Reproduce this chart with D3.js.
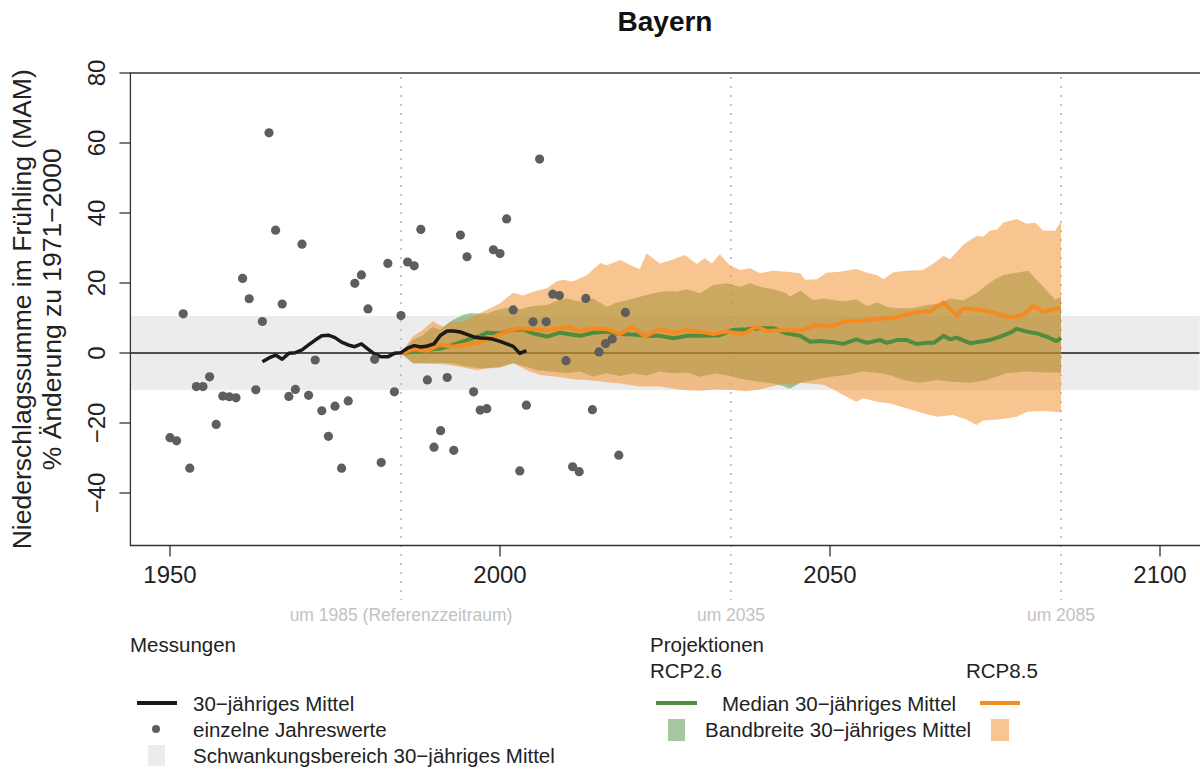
<!DOCTYPE html>
<html><head><meta charset="utf-8">
<script src="https://cdn.jsdelivr.net/npm/d3@7"></script>
<style>
body{margin:0;background:#fff;}
svg text{font-family:"Liberation Sans",Arial,Helvetica,sans-serif;}
</style></head>
<body><svg id="c" width="1200" height="772"></svg>
<script>
// ---------- DATA ----------
const title = "Bayern";
const yLabel1 = "Niederschlagssumme im Frühling (MAM)";
const yLabel2 = "% Änderung zu 1971\u22122000";
const xTicks = [1950, 2000, 2050, 2100];
const yTicks = [-40, -20, 0, 20, 40, 60, 80];
const markerYears = [1985, 2035, 2085];
const markerLabels = ["um 1985 (Referenzzeitraum)", "um 2035", "um 2085"];
const variabilityRange = [-10.6, 10.6];

// individual annual values 1950..2019
const annualStart = 1950;
const annualValues = [
 -24.2,-25.1,11.2,-32.9,-9.6,-9.6,-6.8,-20.4,-12.3,-12.5,
 -12.8,21.3,15.5,-10.5,9.0,62.9,35.1,14.0,-12.4,-10.4,
 31.1,-12.1,-2.0,-16.5,-23.8,-15.2,-32.9,-13.7,19.9,22.3,
 12.6,-1.8,-31.3,25.6,-11.1,10.7,26.0,24.9,35.3,-7.7,
 -26.9,-22.2,-7.0,-27.8,33.7,27.5,-11.1,-16.3,-15.9,29.5,
 28.4,38.3,12.3,-33.7,-14.9,8.9,55.4,8.9,16.8,16.4,
 -2.2,-32.5,-33.9,15.6,-16.2,0.3,2.7,4.0,-29.2,11.6
];

// observed 30-year running mean 1964..2004
const obsMeanStart = 1964;
const obsMeanValues = [
 -2.5,-1.4,-0.6,-1.8,-0.1,0.1,0.9,2.3,3.7,4.9,
 5.1,4.4,3.1,2.3,1.8,2.6,1.1,-0.3,-1.1,-1.1,
 -0.1,0.1,1.4,2.1,1.7,2.0,2.6,5.1,6.3,6.3,
 6.0,5.3,4.6,4.3,4.2,3.9,3.3,2.6,1.9,-0.1,0.7
];

// RCP8.5 band (upper / lower), [year, value]
const rcp85Upper = [[1985,0],[1986.8,4.7],[1988.3,6.6],[1989.8,9.1],[1991.4,7.5],[1992.9,9.1],[1993.9,8.7],[1995.5,10],[1997,11.4],[1998.5,12.8],[2000,14.2],[2002,17.2],[2003.5,16.4],[2005,17.5],[2007.1,18.5],[2008.6,20.4],[2009.5,20.9],[2011,20.4],[2013.2,22.3],[2015.2,25.7],[2016.2,25.1],[2018.2,26.6],[2020.2,24.7],[2021.2,24],[2022.2,28.5],[2024.2,25.6],[2025.8,26.4],[2028,28],[2029.8,25.4],[2031,27.1],[2032.1,25.6],[2033.3,28.2],[2034.8,25.1],[2036.4,23.7],[2037.9,24.2],[2039.4,22.8],[2041.4,23.5],[2043.4,23.2],[2045.5,22.8],[2046.2,20.9],[2048,21.1],[2049.5,22.9],[2051.5,23.2],[2054,24],[2055.6,22.9],[2057.1,22.3],[2058.1,21.1],[2059.6,23.1],[2061.6,23.5],[2064.1,23.7],[2065.7,25.6],[2067.2,27.7],[2068.2,26.8],[2070.2,30.9],[2072.2,33.4],[2073.2,33.2],[2074.2,34.9],[2075.3,35.3],[2076.3,37.3],[2078.3,38.3],[2079.8,36.9],[2081.1,37.2],[2082.3,34.9],[2084.1,34.9],[2085,37.5]];
const rcp85Lower = [[1985,0],[1986.8,-2.9],[1988.9,-3.1],[1991.4,-3.2],[1993.9,-3.9],[1996.5,-4.9],[1998,-4.4],[2000,-4.2],[2002,-2.9],[2004.1,-4.9],[2006.1,-6.3],[2008.6,-6.8],[2011.1,-7.5],[2013.2,-7.7],[2015.6,-8.2],[2018.2,-8.7],[2021.2,-9.6],[2024.2,-9.6],[2027.7,-10.6],[2030.3,-10.8],[2032.8,-10.4],[2035.3,-10.6],[2037.4,-10.9],[2039.4,-10.4],[2041.4,-9.4],[2042.9,-8.7],[2044,-9.1],[2045.5,-8.5],[2049,-9.1],[2050.5,-10.4],[2052.5,-12.5],[2054,-13.9],[2055,-12.9],[2057.1,-13.9],[2059.1,-14.4],[2061.6,-15.8],[2064.1,-17.2],[2066.2,-18.2],[2068.7,-17.7],[2070.7,-19.1],[2072.2,-20.6],[2073.2,-19.3],[2075.8,-18.9],[2078.3,-18.2],[2079.8,-16.8],[2082.3,-16.6],[2085,-16.9]];
// RCP2.6 band
const rcp26Upper = [[1985,0],[1986.8,3.7],[1988.3,5.1],[1989.8,7.5],[1990.9,6.6],[1992.4,8.9],[1994.4,10.9],[1995.5,11.4],[1996.5,11.3],[1998,11.3],[1999.5,12.3],[2001.5,13.1],[2003,12.5],[2005,13.4],[2007.1,13.7],[2008.6,14.9],[2010.1,15.6],[2012.1,14.7],[2014.1,15.6],[2016.2,13.2],[2017.7,14.4],[2019.2,15.1],[2021.2,16.1],[2023.2,17.1],[2025.3,17.7],[2026.8,17.5],[2028.3,18.2],[2030.3,17.1],[2032.3,19.4],[2034.3,19.9],[2036.4,18.9],[2037.9,19.9],[2039.4,18.9],[2041.4,18.2],[2043.4,17.1],[2043.9,16.1],[2045.5,17.8],[2047.5,15.1],[2049,15.6],[2052,14.7],[2054,15.3],[2055.6,13.4],[2057.1,14.4],[2058.6,13.2],[2060.1,12.8],[2062.6,12.8],[2064.7,13.7],[2066.7,14.2],[2068.2,15.6],[2070.2,15.1],[2072.2,17.1],[2073.7,19.4],[2075.2,21.3],[2076.3,22.3],[2077.8,22.8],[2080,23.5],[2082.3,18.9],[2084.1,15.3],[2085,16.1]];
const rcp26Lower = [[1985,0],[1986.8,-2.9],[1989.8,-2.8],[1992.9,-2.9],[1995,-3.9],[1997.4,-4.4],[2000,-3.9],[2002,-2.9],[2004,-3.9],[2005.6,-4.9],[2007.6,-5.3],[2010.1,-5.8],[2012.1,-5.3],[2014.1,-6.8],[2016.2,-5.8],[2018.2,-6.6],[2020.2,-5.8],[2022.2,-6.4],[2024.2,-5.3],[2026.3,-5.8],[2028.3,-5.6],[2030.3,-6.8],[2032.8,-5.8],[2035.3,-6.8],[2037.4,-7.7],[2039.4,-8.2],[2041.4,-8.7],[2042.9,-9.4],[2043.9,-10.2],[2045.5,-8.5],[2047.5,-7.7],[2050,-6.8],[2052.5,-6.3],[2055,-5.3],[2057.6,-5.8],[2059.1,-6.3],[2061.1,-7.7],[2063.6,-8.5],[2066.2,-7.7],[2068.7,-8.2],[2071.2,-8.5],[2073.7,-7.7],[2076.7,-5.8],[2079.8,-5.3],[2082.8,-5.6],[2085,-5.6]];
// medians
const rcp26Median = [[1985,-0.1],[1986.8,0.4],[1988.9,0.9],[1990.9,1.3],[1992.9,2.3],[1995,3.7],[1997,4.9],[1998,5.8],[2000,5.6],[2002,6.6],[2003.5,6.8],[2005,5.6],[2007.1,4.7],[2009.1,5.8],[2012.1,4.9],[2014.1,5.8],[2016.2,6.1],[2018.2,5.4],[2020.2,5.3],[2022.2,4.9],[2024.2,4.9],[2026.3,4.2],[2028.3,4.9],[2031.3,4.9],[2033.3,5.1],[2035.3,6.6],[2037.4,6.8],[2039.4,7.1],[2041.4,7.1],[2043.4,5.6],[2045.5,4.9],[2047,3.2],[2048.5,3.4],[2050.5,3.1],[2052,2.6],[2054,3.9],[2055.6,2.9],[2057.6,3.7],[2058.6,2.9],[2060.1,3.7],[2061.6,3.7],[2063.1,2.6],[2064.7,2.9],[2065.7,2.9],[2067.2,4.9],[2068.2,3.9],[2069.2,4.4],[2071.2,2.8],[2072.7,3.2],[2074.2,3.7],[2075.8,4.7],[2077.3,5.8],[2078.3,6.9],[2079.8,6.1],[2081.3,5.6],[2082.8,4.7],[2084.3,3.4],[2085,4.3]];
const rcp85Median = [[1985,-0.1],[1986.9,1.1],[1988.9,0.7],[1990.9,2.3],[1992.9,1.8],[1995,2.5],[1996.5,2.8],[1998.5,4.2],[2001,6.1],[2003,7.1],[2005,6.8],[2007.1,6.4],[2010.1,7.5],[2012.1,6.3],[2014.1,7.1],[2016.2,6.8],[2018.2,5.4],[2020,7.5],[2022,4.7],[2024,6.8],[2026.3,5.8],[2028.3,6.6],[2030.3,6.1],[2032.3,5.4],[2034.3,6.1],[2036.9,5.4],[2038.9,7.5],[2040.4,6.3],[2042.9,6.6],[2045.5,6.4],[2048,8],[2050,7.5],[2052.3,9.1],[2054.5,9.1],[2056.6,9.7],[2059.1,9.9],[2060.1,10.2],[2062.6,11.5],[2065.2,12],[2067.2,14.4],[2069.2,10.6],[2070.2,12.8],[2072.7,12.3],[2074.7,11.5],[2077.3,10.2],[2079.3,10.9],[2080.8,13.4],[2082.3,11.8],[2085,12.9]];

// ---------- STYLE ----------
const C = {
  black:"#1a1a1a", dot:"#5e5e5e", grey:"#ececec", dotted:"#c4c4c4",
  green:"#4f8c3f", orange:"#f58a20",
  greenFill:"rgba(80,145,65,0.5)", orangeFill:"rgba(241,137,33,0.5)",
  legendGreen:"#a8c6a0", legendOrange:"#f8c592", anno:"#c2c2c2", axis:"#333"
};

const svg = d3.select("#c");
const x = d3.scaleLinear().domain([1944, 2106]).range([130.4, 1199.6]);
const y = d3.scaleLinear().domain([-55, 80]).range([545.5, 73]);
const [x0, x1] = x.range();
const [yB, yT] = y.range();

// variability band
svg.append("rect").attr("x", x0).attr("width", x1 - x0)
  .attr("y", y(variabilityRange[1])).attr("height", y(variabilityRange[0]) - y(variabilityRange[1]))
  .attr("fill", C.grey);

// zero line
svg.append("line").attr("x1", x0).attr("x2", x1).attr("y1", y(0)).attr("y2", y(0))
  .attr("stroke", C.black).attr("stroke-width", 1.5);

// dotted vertical markers
svg.selectAll(".vm").data(markerYears).join("line")
  .attr("x1", d => x(d)).attr("x2", d => x(d)).attr("y1", yT + 4).attr("y2", 600)
  .attr("stroke", C.dotted).attr("stroke-width", 2).attr("stroke-dasharray", "2,7");

// bands
function band(upper, lower) {
  const pts = upper.map(d => [x(d[0]), y(d[1])]).concat(lower.slice().reverse().map(d => [x(d[0]), y(d[1])]));
  return "M" + pts.map(p => p.join(",")).join("L") + "Z";
}
svg.append("path").attr("d", band(rcp26Upper, rcp26Lower)).attr("fill", C.greenFill);
svg.append("path").attr("d", band(rcp85Upper, rcp85Lower)).attr("fill", C.orangeFill);

const line = d3.line().x(d => x(d[0])).y(d => y(d[1]));
svg.append("path").datum(rcp26Median).attr("d", line).attr("fill", "none")
  .attr("stroke", C.green).attr("stroke-width", 4).attr("stroke-linejoin", "round");
svg.append("path").datum(rcp85Median).attr("d", line).attr("fill", "none")
  .attr("stroke", C.orange).attr("stroke-width", 4).attr("stroke-linejoin", "round");

// observed mean
const obsMean = obsMeanValues.map((v, i) => [obsMeanStart + i, v]);
svg.append("path").datum(obsMean).attr("d", line).attr("fill", "none")
  .attr("stroke", C.black).attr("stroke-width", 3.5).attr("stroke-linejoin", "round");

// annual dots
svg.selectAll(".dot").data(annualValues).join("circle")
  .attr("cx", (d, i) => x(annualStart + i)).attr("cy", d => y(d)).attr("r", 4.6).attr("fill", C.dot);

// axes frame
const ax = svg.append("g").attr("stroke", C.axis).attr("stroke-width", 1.3).attr("fill", "none");
ax.append("path").attr("d", `M${x1 + 5},${yT}H${x0}V${yB}H${x1 + 5}`);
xTicks.forEach(t => ax.append("line").attr("x1", x(t)).attr("x2", x(t)).attr("y1", yB).attr("y2", yB + 11));
yTicks.forEach(t => ax.append("line").attr("x1", x0).attr("x2", x0 - 11).attr("y1", y(t)).attr("y2", y(t)));

svg.selectAll(".xt").data(xTicks).join("text")
  .attr("x", d => x(d)).attr("y", 583).attr("text-anchor", "middle")
  .attr("font-size", 24).attr("fill", "#222").text(d => d);
svg.selectAll(".yt").data(yTicks).join("text")
  .attr("transform", d => `translate(105,${y(d)}) rotate(-90)`).attr("text-anchor", "middle")
  .attr("font-size", 24).attr("fill", "#222").text(d => d < 0 ? "\u2212" + Math.abs(d) : d);

// marker annotations
svg.selectAll(".ma").data(markerYears).join("text")
  .attr("x", d => x(d)).attr("y", 621).attr("text-anchor", "middle")
  .attr("font-size", 17.5).attr("fill", C.anno).text((d, i) => markerLabels[i]);

// title & y label
svg.append("text").attr("x", (x0 + x1) / 2).attr("y", 31).attr("text-anchor", "middle")
  .attr("font-size", 28).attr("font-weight", "bold").attr("fill", "#111").text(title);
const yc = (yT + yB) / 2;
svg.append("text").attr("transform", `translate(31,${yc}) rotate(-90)`).attr("text-anchor", "middle")
  .attr("font-size", 26.5).attr("fill", "#222").text(yLabel1);
svg.append("text").attr("transform", `translate(61,${yc}) rotate(-90)`).attr("text-anchor", "middle")
  .attr("font-size", 26.5).attr("fill", "#222").text(yLabel2);

// ---------- LEGEND ----------
const lg = svg.append("g").attr("font-size", 20.5).attr("fill", "#222");
const T = (tx, ty, s) => lg.append("text").attr("x", tx).attr("y", ty).text(s);
T(130, 652, "Messungen");
T(650, 652, "Projektionen");
T(650, 678, "RCP2.6");
T(966, 678, "RCP8.5");
lg.append("line").attr("x1", 137).attr("x2", 177).attr("y1", 703).attr("y2", 703).attr("stroke", C.black).attr("stroke-width", 4);
T(193, 711, "30\u2212jähriges Mittel");
lg.append("circle").attr("cx", 156).attr("cy", 729).attr("r", 4).attr("fill", C.dot);
T(193, 737, "einzelne Jahreswerte");
lg.append("rect").attr("x", 148).attr("y", 745).attr("width", 17).attr("height", 21).attr("fill", C.grey);
T(193, 763, "Schwankungsbereich 30\u2212jähriges Mittel");
lg.append("line").attr("x1", 656).attr("x2", 697).attr("y1", 703).attr("y2", 703).attr("stroke", C.green).attr("stroke-width", 4);
T(722, 711, "Median 30\u2212jähriges Mittel");
lg.append("line").attr("x1", 980).attr("x2", 1020).attr("y1", 703).attr("y2", 703).attr("stroke", C.orange).attr("stroke-width", 4);
lg.append("rect").attr("x", 668).attr("y", 719).attr("width", 17).attr("height", 22).attr("fill", C.legendGreen);
T(705, 737, "Bandbreite 30\u2212jähriges Mittel");
lg.append("rect").attr("x", 991).attr("y", 719).attr("width", 18).attr("height", 22).attr("fill", C.legendOrange);
</script></body></html>
